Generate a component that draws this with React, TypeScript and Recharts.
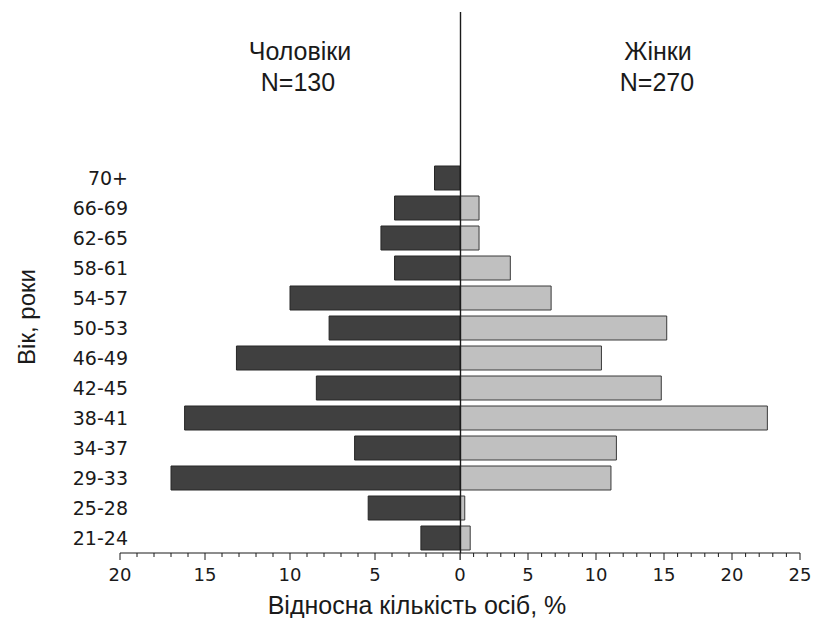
import { BarChart, Bar, XAxis, YAxis } from 'recharts';

// age groups, top to bottom
const ageGroups = ['70+', '66-69', '62-65', '58-61', '54-57', '50-53', '46-49', '42-45', '38-41', '34-37', '29-33', '25-28', '21-24'];
// % of men / women in each group
const menPct = [1.5, 3.85, 4.65, 3.85, 10.0, 7.7, 13.15, 8.45, 16.2, 6.2, 17.0, 5.4, 2.3];
const womenPct = [0, 1.4, 1.4, 3.7, 6.7, 15.2, 10.4, 14.8, 22.6, 11.5, 11.1, 0.35, 0.75];

const menTicks = [0, 1, 2, 3, 4, 5, 6, 7, 8, 9, 10, 11, 12, 13, 14, 15, 16, 17, 18, 19, 20];
const womenTicks = [0, 1, 2, 3, 4, 5, 6, 7, 8, 9, 10, 11, 12, 13, 14, 15, 16, 17, 18, 19, 20, 21, 22, 23, 24, 25];

const rows = ageGroups.map((age, i) => ({ age, men: menPct[i], women: womenPct[i] }));

const INK = '#1a1a1a';
const tickFont = '"DejaVu Sans", Verdana, sans-serif';
const titleFont = '"Liberation Sans", Arial, sans-serif';

function AxisTick(props: any) {
  const { x, y, payload, skipZero } = props;
  const v = payload.value;
  const major = v % 5 === 0;
  return (
    <g>
      <line x1={x} y1={y} x2={x} y2={y + (major ? 7 : 4)} stroke={INK} strokeWidth={1} />
      {major && !(skipZero && v === 0) && (
        <text x={x} y={y + 28} textAnchor="middle" fontSize={18} fontFamily={tickFont} fill={INK}>
          {v}
        </text>
      )}
    </g>
  );
}

function AgeTick(props: any) {
  const { x, y, payload } = props;
  return (
    <text x={x + 8} y={y} dy={7} textAnchor="end" fontSize={19} fontFamily={tickFont} fill={INK}>
      {payload.value}
    </text>
  );
}

const TOP = 163;
const AXIS_H = 65;

export default function App() {
  return (
    <div style={{ position: 'absolute', left: 0, top: 0, width: 814, height: 618, background: '#fff' }}>
      <div style={{ position: 'absolute', left: 460, top: 0 }}>
        <BarChart
          width={354}
          height={618}
          data={rows}
          layout="vertical"
          margin={{ top: TOP, right: 14, bottom: 0, left: 0 }}
        >
          <XAxis
            type="number"
            domain={[0, 25]}
            ticks={womenTicks}
            interval={0}
            height={AXIS_H}
            tickLine={false}
            tickSize={0}
            tickMargin={0}
            axisLine={{ stroke: INK, strokeWidth: 1 }}
            tick={<AxisTick skipZero />}
          />
          <YAxis type="category" dataKey="age" hide />
          <Bar dataKey="women" fill="#c0c0c0" stroke="#3a3a3a" strokeWidth={1} barSize={24} isAnimationActive={false} />
        </BarChart>
      </div>
      <div style={{ position: 'absolute', left: 0, top: 0 }}>
        <BarChart
          width={490}
          height={618}
          data={rows}
          layout="vertical"
          margin={{ top: TOP, right: 30, bottom: 0, left: 0 }}
        >
          <XAxis
            type="number"
            domain={[0, 20]}
            reversed
            ticks={menTicks}
            interval={0}
            height={AXIS_H}
            tickLine={false}
            tickSize={0}
            tickMargin={0}
            axisLine={{ stroke: INK, strokeWidth: 1 }}
            tick={<AxisTick />}
          />
          <YAxis
            type="category"
            dataKey="age"
            width={120}
            axisLine={false}
            tickLine={false}
            tickSize={0}
            tickMargin={0}
            interval={0}
            tick={<AgeTick />}
          />
          <Bar dataKey="men" fill="#404040" stroke="#262626" strokeWidth={1} barSize={24} isAnimationActive={false} />
        </BarChart>
      </div>
      <svg
        width={814}
        height={618}
        style={{ position: 'absolute', left: 0, top: 0, pointerEvents: 'none' }}
      >
        <line x1={460.5} y1={12} x2={460.5} y2={553} stroke={INK} strokeWidth={1.4} />
        <g fontFamily={titleFont} fontSize={25} fill={INK} textAnchor="middle">
          <text x={300} y={60}>Чоловіки</text>
          <text x={298} y={91}>N=130</text>
          <text x={658} y={60}>Жінки</text>
          <text x={657} y={91}>N=270</text>
          <text x={417} y={614}>Відносна кількість осіб, %</text>
          <text x={27} y={317} transform="rotate(-90 27 317)" dy={8} fontSize={24}>
            Вік, роки
          </text>
        </g>
      </svg>
    </div>
  );
}
